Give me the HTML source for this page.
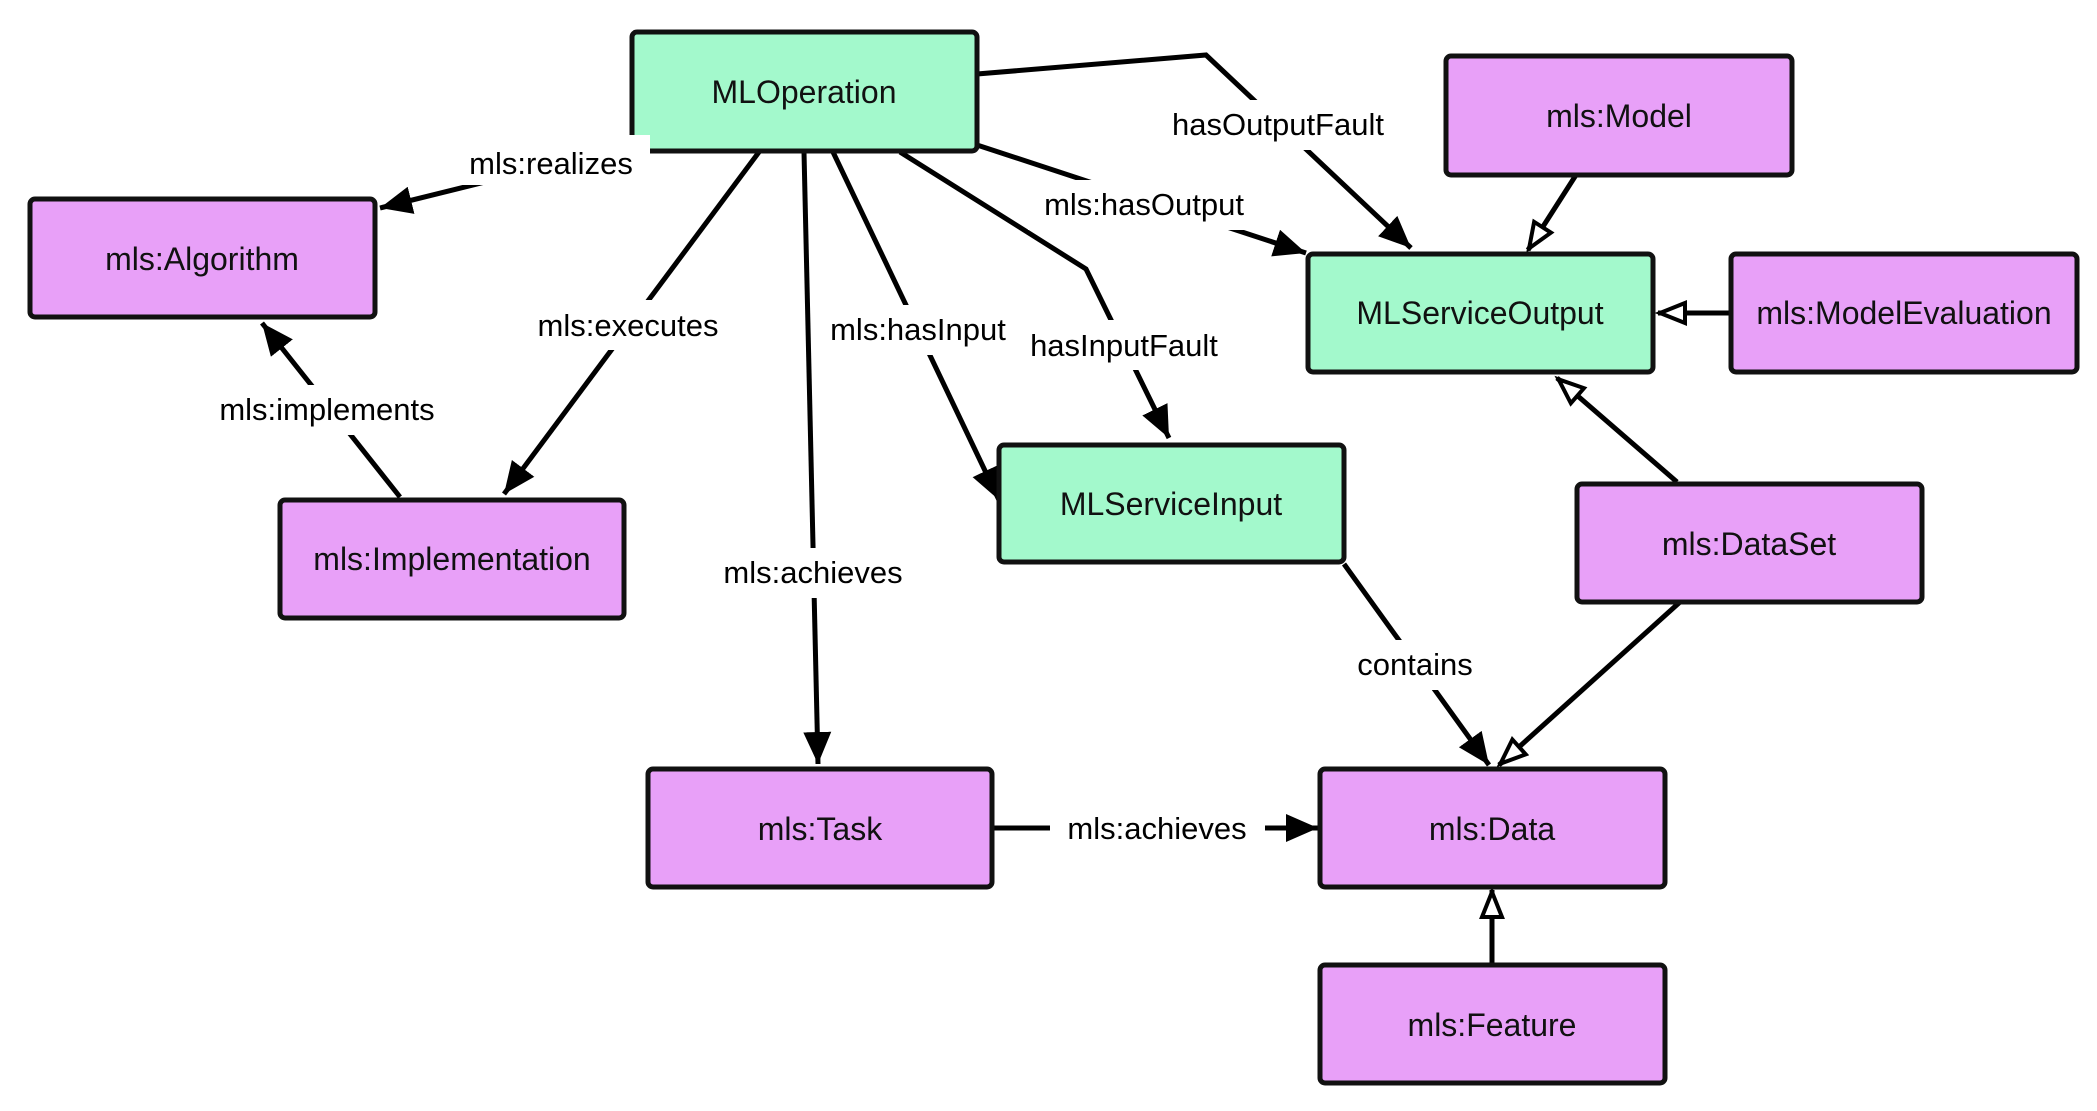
<!DOCTYPE html>
<html><head><meta charset="utf-8"><style>
html,body{margin:0;padding:0;background:#fff;}
svg{display:block;}
text{font-family:"Liberation Sans",sans-serif;}
</style></head><body>
<svg width="2097" height="1111" viewBox="0 0 2097 1111" xmlns="http://www.w3.org/2000/svg">
<defs>
<marker id="f" markerUnits="userSpaceOnUse" markerWidth="40" markerHeight="40" refX="32" refY="14" orient="auto"><path d="M0,0 L32,14 L0,28 Z" fill="#000"/></marker>
<marker id="h" markerUnits="userSpaceOnUse" markerWidth="40" markerHeight="40" refX="30" refY="13" orient="auto"><path d="M3,3 L28,13 L3,23 Z" fill="#fff" stroke="#000" stroke-width="4"/></marker>
</defs>
<g stroke="#000" stroke-width="5" fill="none">
<line x1="655" y1="140" x2="380" y2="208" marker-end="url(#f)"/>
<line x1="759" y1="152" x2="504" y2="494" marker-end="url(#f)"/>
<line x1="400" y1="497" x2="262" y2="323" marker-end="url(#f)"/>
<line x1="804" y1="152" x2="818" y2="764" marker-end="url(#f)"/>
<line x1="833" y1="152" x2="999" y2="500" marker-end="url(#f)"/>
<polyline points="900,152 1086,269 1169,438" marker-end="url(#f)"/>
<line x1="977" y1="145" x2="1306" y2="253" marker-end="url(#f)"/>
<polyline points="977,74 1206,55 1411,248" marker-end="url(#f)"/>
<line x1="1576" y1="175" x2="1528" y2="250" marker-end="url(#h)"/>
<line x1="1731" y1="313" x2="1658" y2="313" marker-end="url(#h)"/>
<line x1="1677" y1="482" x2="1557" y2="378" marker-end="url(#h)"/>
<line x1="1344" y1="564" x2="1489" y2="765" marker-end="url(#f)"/>
<line x1="1680" y1="602" x2="1499" y2="765" marker-end="url(#h)"/>
<line x1="992" y1="828" x2="1318" y2="828" marker-end="url(#f)"/>
<line x1="1492" y1="965" x2="1492" y2="890" marker-end="url(#h)"/>
</g>
<g stroke="#111" stroke-width="5">
<rect x="632" y="32" width="345" height="119" rx="5" fill="#a3f9cc"/>
<rect x="30" y="199" width="345" height="118" rx="5" fill="#e8a0f8"/>
<rect x="280" y="500" width="344" height="118" rx="5" fill="#e8a0f8"/>
<rect x="648" y="769" width="344" height="118" rx="5" fill="#e8a0f8"/>
<rect x="1320" y="769" width="345" height="118" rx="5" fill="#e8a0f8"/>
<rect x="1320" y="965" width="345" height="118" rx="5" fill="#e8a0f8"/>
<rect x="999" y="445" width="345" height="117" rx="5" fill="#a3f9cc"/>
<rect x="1308" y="254" width="345" height="118" rx="5" fill="#a3f9cc"/>
<rect x="1446" y="56" width="346" height="119" rx="5" fill="#e8a0f8"/>
<rect x="1731" y="254" width="346" height="118" rx="5" fill="#e8a0f8"/>
<rect x="1577" y="484" width="345" height="118" rx="5" fill="#e8a0f8"/>
</g>
<g font-size="32" text-anchor="middle" fill="#111">
<text x="804" y="103">MLOperation</text>
<text x="202" y="270">mls:Algorithm</text>
<text x="452" y="570">mls:Implementation</text>
<text x="820" y="840">mls:Task</text>
<text x="1492" y="840">mls:Data</text>
<text x="1492" y="1036">mls:Feature</text>
<text x="1171" y="515">MLServiceInput</text>
<text x="1480" y="324">MLServiceOutput</text>
<text x="1619" y="127">mls:Model</text>
<text x="1904" y="324">mls:ModelEvaluation</text>
<text x="1749" y="555">mls:DataSet</text>
</g>
<g fill="#fff">
<rect x="450" y="135" width="200" height="50"/>
<rect x="520" y="300" width="215" height="50"/>
<rect x="200" y="385" width="250" height="50"/>
<rect x="705" y="548" width="220" height="50"/>
<rect x="815" y="305" width="200" height="50"/>
<rect x="1010" y="320" width="225" height="50"/>
<rect x="1028" y="180" width="230" height="50"/>
<rect x="1152" y="100" width="250" height="50"/>
<rect x="1345" y="640" width="140" height="50"/>
<rect x="1050" y="803" width="215" height="50"/>
</g>
<g font-size="31" text-anchor="middle" fill="#000">
<text x="551" y="174">mls:realizes</text>
<text x="628" y="336">mls:executes</text>
<text x="327" y="420">mls:implements</text>
<text x="813" y="583">mls:achieves</text>
<text x="918" y="340">mls:hasInput</text>
<rect x="1010" y="320" width="14" height="50" fill="#fff"/>
<text x="1124" y="356">hasInputFault</text>
<text x="1144" y="215">mls:hasOutput</text>
<text x="1278" y="135">hasOutputFault</text>
<text x="1415" y="675">contains</text>
<text x="1157" y="839">mls:achieves</text>
</g>
</svg>
</body></html>
